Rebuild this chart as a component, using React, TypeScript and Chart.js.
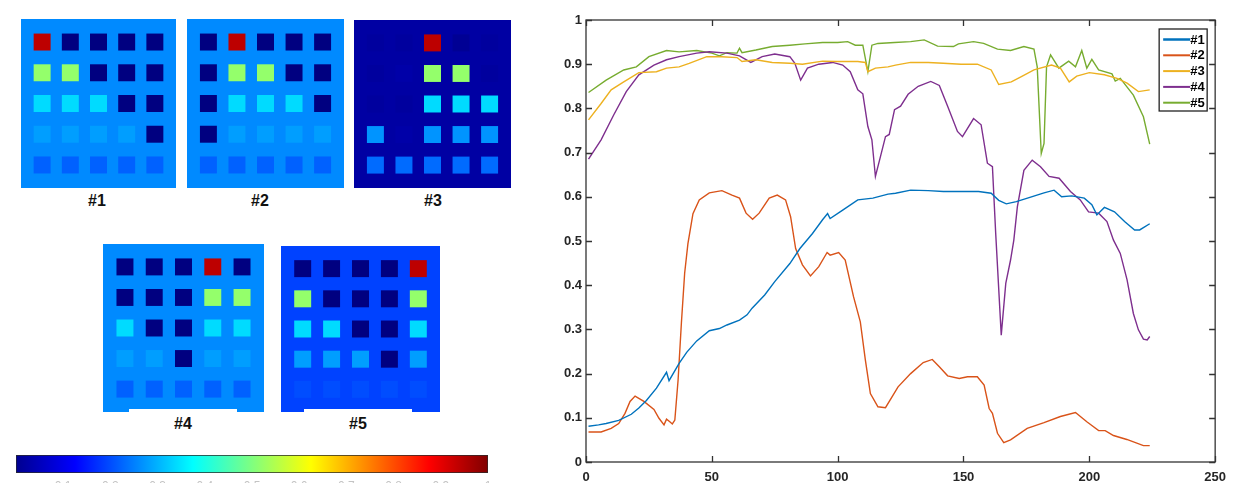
import React, { useEffect, useRef } from "react";
import { Chart, registerables } from "chart.js";

Chart.register(...registerables);

// ---------------- Line chart data ----------------
const seriesNames = ["#1", "#2", "#3", "#4", "#5"];
const xTicks = [0, 50, 100, 150, 200, 250];
const yTicks = [0, 0.1, 0.2, 0.3, 0.4, 0.5, 0.6, 0.7, 0.8, 0.9, 1];

const s1X = [1, 5, 8, 13, 18, 21, 24, 28, 32, 33, 37, 40, 44, 49, 53, 56, 61, 64, 66, 71, 75, 81, 85, 90, 94, 96, 97, 102, 108, 114, 120, 123, 129, 136, 142, 149, 156, 161, 164, 167, 171, 177, 182, 186, 189, 193, 198, 201, 203, 206, 210, 214, 218, 220, 224];
const s1Y = [0.081, 0.084, 0.087, 0.094, 0.108, 0.122, 0.139, 0.167, 0.203, 0.184, 0.223, 0.248, 0.274, 0.297, 0.302, 0.31, 0.321, 0.333, 0.348, 0.378, 0.408, 0.449, 0.483, 0.517, 0.548, 0.562, 0.551, 0.57, 0.593, 0.597, 0.606, 0.608, 0.615, 0.614, 0.612, 0.612, 0.612, 0.608, 0.592, 0.584, 0.589, 0.6, 0.609, 0.615, 0.6, 0.602, 0.597, 0.582, 0.559, 0.576, 0.566, 0.544, 0.525, 0.525, 0.539];

const s2X = [1, 6, 10, 13, 15.5, 17.5, 19.5, 23, 27, 29, 31, 32, 33.3, 34.3, 35.3, 36.6, 37.9, 39.2, 40.5, 42.5, 45, 49, 54, 58, 61, 63.6, 66.2, 68.8, 72.8, 76, 79.3, 81.3, 83.3, 86, 89.2, 92.5, 95.8, 97, 100.4, 103, 106.3, 109, 111, 113, 116, 119, 124, 129, 134, 137.6, 140.3, 143.7, 148.3, 151.6, 155.5, 158.2, 160.2, 161.5, 163.5, 166, 168.7, 175.3, 182, 188.5, 194.5, 199, 203.7, 206.3, 209.6, 214.9, 221.5, 224];
const s2Y = [0.068, 0.068, 0.076, 0.087, 0.11, 0.137, 0.149, 0.137, 0.119, 0.099, 0.084, 0.097, 0.091, 0.086, 0.095, 0.186, 0.314, 0.427, 0.494, 0.562, 0.593, 0.609, 0.614, 0.604, 0.597, 0.563, 0.549, 0.563, 0.597, 0.604, 0.593, 0.555, 0.483, 0.446, 0.421, 0.442, 0.474, 0.468, 0.474, 0.457, 0.374, 0.317, 0.231, 0.155, 0.125, 0.123, 0.17, 0.2, 0.225, 0.232, 0.216, 0.195, 0.189, 0.193, 0.193, 0.174, 0.121, 0.11, 0.065, 0.044, 0.05, 0.076, 0.089, 0.103, 0.112, 0.091, 0.071, 0.071, 0.06, 0.051, 0.037, 0.037];

const s3X = [1, 6, 10, 15, 21, 28, 32, 37, 41, 48, 54, 60, 62, 67.5, 74, 81, 86, 94, 100, 108, 111, 112, 115, 120, 123, 129, 136, 142, 149, 155.5, 161, 164, 169, 173, 178, 185, 188.5, 192, 195, 200, 206, 211, 215, 219.5, 224];
const s3Y = [0.774, 0.811, 0.842, 0.86, 0.881, 0.883, 0.891, 0.894, 0.902, 0.917, 0.917, 0.915, 0.906, 0.91, 0.904, 0.902, 0.9, 0.907, 0.906, 0.906, 0.904, 0.883, 0.891, 0.894, 0.898, 0.904, 0.904, 0.902, 0.9, 0.9, 0.887, 0.854, 0.86, 0.872, 0.887, 0.898, 0.891, 0.86, 0.873, 0.881, 0.876, 0.868, 0.857, 0.838, 0.842];

const s4X = [1, 6, 11, 16, 21, 27, 32, 37, 44, 49, 56, 61, 65.5, 70, 75, 81, 83, 85.3, 88, 92.5, 98, 102, 105, 108, 110, 112, 113.6, 115, 117, 119, 120.5, 122.6, 125, 128, 132, 137, 140.4, 143.7, 147.6, 149.6, 154, 157, 159.5, 161.5, 162.8, 165, 166.8, 168.7, 170, 171.4, 174, 177.3, 180.6, 184, 188, 192.5, 196.4, 199.7, 203.7, 207, 209.6, 212.3, 215, 217.5, 219.5, 221.5, 223, 224];
const s4Y = [0.685, 0.729, 0.785, 0.838, 0.876, 0.898, 0.91, 0.917, 0.925, 0.928, 0.925, 0.919, 0.904, 0.917, 0.923, 0.917, 0.902, 0.864, 0.891, 0.9, 0.904, 0.898, 0.883, 0.842, 0.833, 0.759, 0.729, 0.646, 0.691, 0.736, 0.741, 0.797, 0.805, 0.832, 0.85, 0.861, 0.852, 0.805, 0.748, 0.736, 0.777, 0.763, 0.676, 0.668, 0.517, 0.287, 0.404, 0.457, 0.502, 0.577, 0.66, 0.683, 0.668, 0.646, 0.642, 0.612, 0.593, 0.566, 0.563, 0.544, 0.502, 0.472, 0.412, 0.336, 0.299, 0.278, 0.276, 0.284];

const s5X = [1, 8, 15, 20, 25, 32, 37, 44, 50, 53, 56, 60, 61, 62, 67.5, 74, 81, 87, 94, 100, 104, 107, 110, 112, 113.6, 116, 122.6, 129, 134.4, 139.7, 146, 148, 154, 158, 163.5, 168.7, 174, 178, 179.3, 180.9, 182, 183, 184.6, 187.9, 191.8, 194.5, 197, 199, 201, 203.7, 209, 210.3, 212.3, 217.5, 221.5, 224];
const s5Y = [0.836, 0.864, 0.887, 0.894, 0.917, 0.931, 0.928, 0.931, 0.925, 0.919, 0.926, 0.925, 0.936, 0.926, 0.932, 0.94, 0.943, 0.946, 0.949, 0.949, 0.951, 0.943, 0.943, 0.883, 0.943, 0.947, 0.949, 0.951, 0.955, 0.941, 0.94, 0.946, 0.951, 0.947, 0.934, 0.931, 0.94, 0.934, 0.894, 0.698, 0.721, 0.894, 0.921, 0.891, 0.907, 0.894, 0.931, 0.891, 0.911, 0.887, 0.878, 0.862, 0.868, 0.83, 0.781, 0.719];

const seriesColors = ["#0072BD", "#D95319", "#EDB120", "#7E2F8E", "#77AC30"];

// ---------------- Abundance maps (jet colormap values 0..1) ----------------
const panelLabels = ["#1", "#2", "#3", "#4", "#5"];
const panelBackgrounds = [0.26, 0.26, 0.035, 0.26, 0.19];
const panel1Grid = [
  [0.94, 0, 0, 0, 0],
  [0.52, 0.52, 0, 0, 0],
  [0.34, 0.34, 0.34, 0, 0],
  [0.28, 0.28, 0.28, 0.28, 0],
  [0.22, 0.22, 0.22, 0.22, 0.22],
];
const panel2Grid = [
  [0, 0.94, 0, 0, 0],
  [0, 0.52, 0.52, 0, 0],
  [0, 0.34, 0.34, 0.34, 0],
  [0, 0.28, 0.28, 0.28, 0.28],
  [0.22, 0.22, 0.22, 0.22, 0.22],
];
const panel3Grid = [
  [0.03, 0.03, 0.94, 0.02, 0.03],
  [0.03, 0.04, 0.52, 0.52, 0.03],
  [0.03, 0.03, 0.34, 0.34, 0.34],
  [0.27, 0.04, 0.27, 0.27, 0.27],
  [0.23, 0.23, 0.23, 0.23, 0.23],
];
const panel4Grid = [
  [0, 0, 0, 0.94, 0],
  [0, 0, 0, 0.52, 0.52],
  [0.34, 0, 0, 0.34, 0.34],
  [0.28, 0.28, 0, 0.28, 0.28],
  [0.22, 0.22, 0.22, 0.22, 0.22],
];
const panel5Grid = [
  [0, 0, 0, 0, 0.94],
  [0.52, 0, 0, 0, 0.52],
  [0.34, 0.34, 0, 0, 0.34],
  [0.28, 0.28, 0.28, 0, 0.28],
  [0.2, 0.2, 0.2, 0.2, 0.2],
];
const panelGrids = [panel1Grid, panel2Grid, panel3Grid, panel4Grid, panel5Grid];

// colorbar
const colorbarTicks = [0.1, 0.2, 0.3, 0.4, 0.5, 0.6, 0.7, 0.8, 0.9, 1];
const jetStops: [number, string][] = [
  [0, "rgb(0,0,143)"],
  [0.125, "rgb(0,0,255)"],
  [0.375, "rgb(0,255,255)"],
  [0.625, "rgb(255,255,0)"],
  [0.875, "rgb(255,0,0)"],
  [1, "rgb(128,0,0)"],
];

// ---------------- layout (styling only) ----------------
const panelBoxes = [
  { left: 21, top: 19, w: 155, h: 169 },
  { left: 187, top: 19, w: 157, h: 169 },
  { left: 354, top: 20, w: 157, h: 168 },
  { left: 103, top: 244, w: 161, h: 168 },
  { left: 281, top: 246, w: 159, h: 166 },
];
const labelBoxes = [
  { left: 54, top: 188, w: 86, h: 26 },
  { left: 212, top: 188, w: 96, h: 26 },
  { left: 385, top: 188, w: 96, h: 26 },
  { left: 129, top: 409, w: 108, h: 30 },
  { left: 304, top: 409, w: 108, h: 30 },
];

function jet(v: number): string {
  const c = (t: number) => Math.round(255 * Math.max(0, Math.min(1, t)));
  return `rgb(${c(1.5 - Math.abs(4 * v - 3))},${c(1.5 - Math.abs(4 * v - 2))},${c(1.5 - Math.abs(4 * v - 1))})`;
}

const bgPlugin = {
  id: "panelBg",
  beforeDatasetsDraw(chart: any, _args: any, opts: any) {
    const { ctx, chartArea: a } = chart;
    ctx.save();
    ctx.fillStyle = opts.color;
    ctx.fillRect(a.left, a.top, a.right - a.left, a.bottom - a.top);
    ctx.restore();
  },
};

const boxPlugin = {
  id: "matlabBox",
  afterDatasetsDraw(chart: any) {
    const { ctx, chartArea: a, scales } = chart;
    const x = scales.x;
    const y = scales.y;
    ctx.save();
    ctx.strokeStyle = "#333";
    ctx.lineWidth = 1.3;
    ctx.strokeRect(a.left, a.top, a.right - a.left, a.bottom - a.top);
    ctx.beginPath();
    x.ticks.forEach((t: any) => {
      const px = Math.round(x.getPixelForValue(t.value)) + 0.5;
      ctx.moveTo(px, a.bottom);
      ctx.lineTo(px, a.bottom - 6);
      ctx.moveTo(px, a.top);
      ctx.lineTo(px, a.top + 6);
    });
    y.ticks.forEach((t: any) => {
      const py = Math.round(y.getPixelForValue(t.value)) + 0.5;
      ctx.moveTo(a.left, py);
      ctx.lineTo(a.left + 6, py);
      ctx.moveTo(a.right, py);
      ctx.lineTo(a.right - 6, py);
    });
    ctx.stroke();
    ctx.restore();
  },
};

const legendPlugin = {
  id: "boxLegend",
  afterDraw(chart: any) {
    const { ctx, chartArea: a } = chart;
    const bw = 48;
    const bh = 82;
    const bx = a.right - 8 - bw;
    const by = a.top + 9;
    ctx.save();
    ctx.fillStyle = "#fff";
    ctx.fillRect(bx, by, bw, bh);
    ctx.strokeStyle = "#222";
    ctx.lineWidth = 1.3;
    ctx.strokeRect(bx, by, bw, bh);
    chart.data.datasets.forEach((d: any, i: number) => {
      const yy = by + 10.5 + i * 15.8;
      ctx.strokeStyle = d.borderColor;
      ctx.lineWidth = i === 0 ? 2.5 : 2;
      ctx.beginPath();
      ctx.moveTo(bx + 4, yy);
      ctx.lineTo(bx + 31, yy);
      ctx.stroke();
      ctx.fillStyle = "#000";
      ctx.font = "bold 13px 'Liberation Sans', Arial, sans-serif";
      ctx.textBaseline = "middle";
      ctx.textAlign = "left";
      ctx.fillText(d.label, bx + 31, yy + 0.5);
    });
    ctx.restore();
  },
};

const tickFont = { family: "'Liberation Sans', Arial, sans-serif", size: 13, weight: "bold" as const };
const fmt = (v: any) => String(Number(Number(v).toFixed(2)));

export default function App() {
  const mainRef = useRef<HTMLCanvasElement>(null);
  const cbRef = useRef<HTMLCanvasElement>(null);
  const panelRefs = useRef<(HTMLCanvasElement | null)[]>([]);

  useEffect(() => {
    const charts: Chart[] = [];

    panelGrids.forEach((grid, i) => {
      const canvas = panelRefs.current[i];
      if (!canvas) return;
      const pts: { x: number; y: number }[] = [];
      const colors: string[] = [];
      grid.forEach((row, r) =>
        row.forEach((v, c) => {
          pts.push({ x: c + 1, y: r + 1 });
          colors.push(jet(v));
        })
      );
      charts.push(
        new Chart(canvas, {
          type: "scatter",
          data: {
            datasets: [
              {
                data: pts,
                pointStyle: "rect",
                pointRadius: 12,
                pointBackgroundColor: colors,
                pointBorderWidth: 0,
                borderWidth: 0,
              } as any,
            ],
          },
          options: {
            responsive: false,
            animation: false,
            events: [],
            layout: { padding: 0, autoPadding: false } as any,
            plugins: {
              legend: { display: false },
              tooltip: { enabled: false },
              panelBg: { color: jet(panelBackgrounds[i]) },
            } as any,
            scales: {
              x: { display: false, min: 0.25, max: 5.75 },
              y: { display: false, min: 0.25, max: 5.75, reverse: true },
            },
          },
          plugins: [bgPlugin],
        })
      );
    });

    if (cbRef.current) {
      charts.push(
        new Chart(cbRef.current, {
          type: "bar",
          data: {
            labels: [""],
            datasets: [
              {
                data: [colorbarTicks[colorbarTicks.length - 1]],
                backgroundColor: (c: any) => {
                  const a = c.chart.chartArea;
                  if (!a) return "blue";
                  const g = c.chart.ctx.createLinearGradient(a.left, 0, a.right, 0);
                  jetStops.forEach(([p, col]) => g.addColorStop(p, col));
                  return g;
                },
                borderColor: "#2a2a2a",
                borderWidth: 1,
                borderSkipped: false,
                barPercentage: 1,
                categoryPercentage: 1,
              } as any,
            ],
          },
          options: {
            indexAxis: "y",
            responsive: false,
            animation: false,
            events: [],
            layout: { padding: { left: 16, right: 17, top: 5, bottom: 0 }, autoPadding: false } as any,
            plugins: { legend: { display: false }, tooltip: { enabled: false } },
            scales: {
              x: {
                type: "linear",
                min: 0,
                max: 1,
                afterBuildTicks: (s: any) => {
                  s.ticks = colorbarTicks.map((v) => ({ value: v }));
                },
                ticks: { color: "#c4c4c4", font: { size: 12, family: "'Liberation Sans', Arial" }, padding: 6, maxRotation: 0, callback: fmt },
                grid: { display: false, drawTicks: false },
                border: { display: false },
                afterFit: (s: any) => {
                  s.height = 10;
                },
              },
              y: { display: false },
            },
          } as any,
        })
      );
    }

    if (mainRef.current) {
      const xs = [s1X, s2X, s3X, s4X, s5X];
      const ys = [s1Y, s2Y, s3Y, s4Y, s5Y];
      charts.push(
        new Chart(mainRef.current, {
          type: "line",
          data: {
            datasets: seriesNames.map((name, i) => ({
              label: name,
              data: xs[i].map((x, j) => ({ x, y: ys[i][j] })),
              borderColor: seriesColors[i],
              backgroundColor: seriesColors[i],
              borderWidth: 1.4,
              pointRadius: 0,
              tension: 0,
              fill: false,
            })),
          },
          options: {
            responsive: false,
            animation: false,
            events: [],
            layout: { padding: { top: 20, right: 15, left: 0, bottom: 0 }, autoPadding: false } as any,
            plugins: { legend: { display: false }, tooltip: { enabled: false } },
            scales: {
              x: {
                type: "linear",
                min: xTicks[0],
                max: xTicks[xTicks.length - 1],
                afterBuildTicks: (s: any) => {
                  s.ticks = xTicks.map((v) => ({ value: v }));
                },
                ticks: { color: "#262626", font: tickFont, padding: 8, maxRotation: 0, autoSkip: false, callback: fmt },
                grid: { display: false, drawTicks: false },
                border: { display: false },
                afterFit: (s: any) => {
                  s.height = 21;
                },
              },
              y: {
                type: "linear",
                min: yTicks[0],
                max: yTicks[yTicks.length - 1],
                afterBuildTicks: (s: any) => {
                  s.ticks = yTicks.map((v) => ({ value: v }));
                },
                ticks: { color: "#262626", font: tickFont, padding: 4, autoSkip: false, callback: fmt },
                grid: { display: false, drawTicks: false },
                border: { display: false },
                afterFit: (s: any) => {
                  s.width = 46;
                },
              },
            },
          } as any,
          plugins: [boxPlugin, legendPlugin],
        })
      );
    }

    return () => charts.forEach((c) => c.destroy());
  }, []);

  return (
    <div
      style={{
        position: "absolute",
        left: 0,
        top: 0,
        width: 1234,
        height: 483,
        background: "#fff",
        overflow: "hidden",
        fontFamily: "'Liberation Sans', Arial, sans-serif",
      }}
    >
      {panelBoxes.map((b, i) => (
        <canvas
          key={"p" + i}
          ref={(el) => {
            panelRefs.current[i] = el;
          }}
          width={b.w}
          height={b.h}
          style={{ position: "absolute", left: b.left, top: b.top, width: b.w, height: b.h, display: "block" }}
        />
      ))}
      {labelBoxes.map((l, i) => (
        <div
          key={"l" + i}
          style={{
            position: "absolute",
            left: l.left,
            top: l.top,
            width: l.w,
            height: l.h,
            background: "#fff",
            display: "flex",
            alignItems: "center",
            justifyContent: "center",
            fontWeight: "bold",
            fontSize: 16,
            color: "#111",
          }}
        >
          {panelLabels[i]}
        </div>
      ))}
      <canvas
        ref={cbRef}
        width={505}
        height={33}
        style={{ position: "absolute", left: 0, top: 450, width: 505, height: 33, display: "block" }}
      />
      <canvas
        ref={mainRef}
        width={694}
        height={483}
        style={{ position: "absolute", left: 540, top: 0, width: 694, height: 483, display: "block" }}
      />
    </div>
  );
}
